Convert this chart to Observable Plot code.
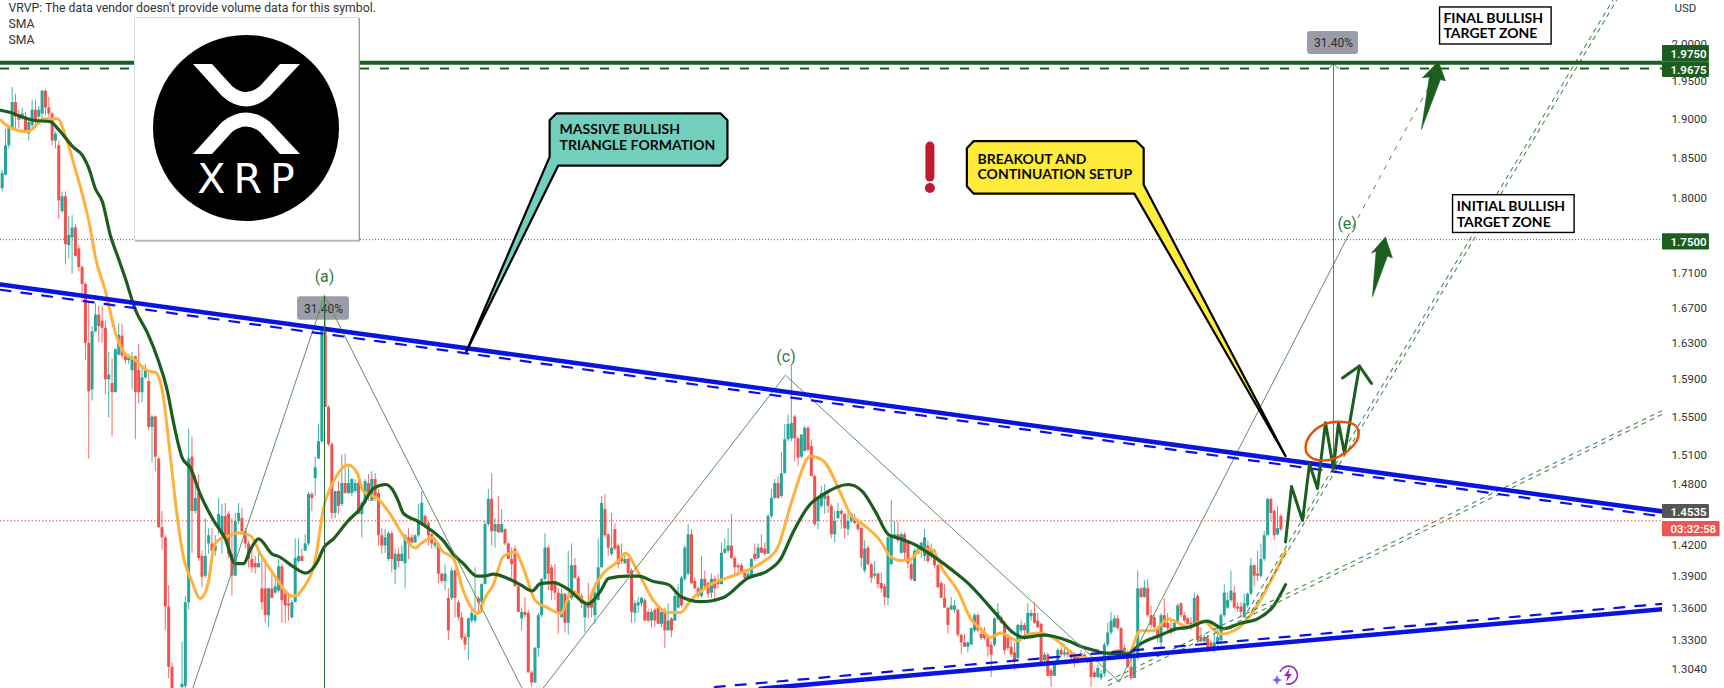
<!DOCTYPE html>
<html>
<head>
<meta charset="utf-8">
<script src="https://cdn.jsdelivr.net/npm/d3@7"></script>
<script src="https://cdn.jsdelivr.net/npm/@observablehq/plot@0.6"></script>
<style>
html,body{margin:0;padding:0;background:#fff;overflow:hidden}
svg{display:block}
</style>
</head>
<body>
<div id="chart"></div>
<script>
// ---- candles: [open, high, low, close], first bar number given with each run
const barsDecline = [
[1.812,1.835,1.808,1.831],[1.829,1.887,1.828,1.866],[1.866,1.892,1.862,1.888],[1.888,1.942,1.887,1.922],[1.922,1.933,1.887,1.903],
[1.904,1.912,1.888,1.899],[1.903,1.915,1.898,1.907],[1.903,1.909,1.884,1.885],[1.881,1.899,1.872,1.896],[1.892,1.925,1.888,1.912],
[1.912,1.925,1.892,1.899],[1.903,1.917,1.895,1.912],[1.907,1.938,1.895,1.937],[1.937,1.939,1.904,1.915],[1.915,1.929,1.903,1.907],
[1.907,1.909,1.866,1.872],[1.872,1.884,1.862,1.881],[1.866,1.872,1.774,1.797],[1.784,1.808,1.781,1.802],[1.802,1.808,1.72,1.744],
[1.743,1.778,1.727,1.755],[1.752,1.779,1.709,1.764],[1.764,1.768,1.729,1.73],[1.739,1.743,1.712,1.717],[1.717,1.719,1.676,1.697],
[1.697,1.699,1.611,1.63],[1.63,1.676,1.506,1.577],[1.579,1.649,1.567,1.643],[1.643,1.675,1.642,1.662],[1.662,1.672,1.631,1.649],
[1.655,1.672,1.63,1.647],[1.647,1.655,1.574,1.59],[1.59,1.62,1.549,1.595],[1.586,1.613,1.529,1.576],[1.576,1.624,1.576,1.623],
[1.617,1.652,1.616,1.639],[1.638,1.651,1.613,1.616],[1.616,1.618,1.607,1.611],[1.611,1.618,1.607,1.615],[1.6,1.62,1.579,1.615],
[1.615,1.616,1.526,1.576],[1.6,1.629,1.564,1.576],[1.576,1.604,1.565,1.592],[1.592,1.607,1.59,1.6],[1.588,1.598,1.536,1.539],
[1.539,1.552,1.502,1.55],[1.55,1.551,1.493,1.508],[1.506,1.508,1.436,1.437],[1.437,1.453,1.415,1.427],[1.427,1.429,1.339,1.361],
[1.361,1.381,1.296,1.306],[1.306,1.31,1.283,1.285]];
const barsFirstSwing = [
[1.288,1.329,1.286,1.291],[1.289,1.371,1.287,1.365],[1.365,1.537,1.358,1.506],[1.508,1.529,1.412,1.453],[1.453,1.488,1.45,1.466],
[1.471,1.49,1.404,1.407],[1.409,1.414,1.379,1.389],[1.39,1.446,1.388,1.409],[1.421,1.436,1.411,1.429],[1.421,1.436,1.412,1.414],
[1.414,1.429,1.409,1.419],[1.436,1.466,1.43,1.45],[1.43,1.46,1.411,1.448],[1.448,1.461,1.427,1.429],[1.45,1.453,1.407,1.411],
[1.411,1.446,1.371,1.39],[1.39,1.451,1.39,1.443],[1.443,1.461,1.44,1.451],[1.446,1.456,1.431,1.433],[1.433,1.436,1.416,1.421],
[1.421,1.424,1.398,1.406],[1.406,1.417,1.393,1.398],[1.402,1.409,1.392,1.398],[1.398,1.412,1.398,1.402],[1.378,1.407,1.358,1.365],
[1.378,1.406,1.346,1.353],[1.353,1.379,1.342,1.378],[1.378,1.395,1.369,1.369],[1.374,1.388,1.373,1.38],[1.376,1.406,1.374,1.399],
[1.399,1.401,1.346,1.367],[1.373,1.376,1.346,1.362],[1.364,1.371,1.348,1.362],[1.351,1.367,1.35,1.365],[1.365,1.426,1.365,1.407],
[1.404,1.426,1.402,1.409],[1.409,1.416,1.404,1.404],[1.414,1.43,1.414,1.421],[1.421,1.472,1.419,1.47],[1.47,1.472,1.453,1.466],
[1.486,1.508,1.468,1.497],[1.506,1.542,1.506,1.524],[1.524,1.649,1.522,1.647],[1.643,1.671,1.56,1.56],[1.56,1.562,1.519,1.521],
[1.521,1.523,1.445,1.451],[1.451,1.473,1.446,1.473],[1.473,1.483,1.45,1.458],[1.46,1.51,1.458,1.481],[1.481,1.511,1.47,1.471],
[1.471,1.498,1.47,1.481],[1.471,1.486,1.468,1.485],[1.473,1.485,1.471,1.481],[1.481,1.491,1.45,1.45],[1.45,1.463,1.427,1.461],
[1.461,1.485,1.46,1.483],[1.481,1.49,1.463,1.471],[1.463,1.493,1.463,1.485],[1.485,1.491,1.463,1.465],[1.471,1.475,1.419,1.429],
[1.429,1.436,1.411,1.419],[1.419,1.435,1.412,1.427],[1.406,1.433,1.404,1.431],[1.431,1.433,1.393,1.406],[1.396,1.416,1.382,1.411],
[1.411,1.417,1.398,1.404],[1.404,1.419,1.404,1.411],[1.402,1.43,1.378,1.429],[1.427,1.436,1.406,1.422],[1.427,1.43,1.421,1.422],
[1.422,1.43,1.422,1.429],[1.429,1.46,1.427,1.443]];
const barsMiddleRange = [
[1.44,1.473,1.438,1.461],[1.448,1.45,1.436,1.44],[1.441,1.443,1.419,1.429],[1.43,1.431,1.416,1.421],[1.419,1.426,1.416,1.422],
[1.421,1.422,1.383,1.392],[1.392,1.393,1.383,1.385],[1.385,1.401,1.376,1.392],[1.369,1.378,1.33,1.339],[1.369,1.398,1.367,1.395],
[1.395,1.397,1.351,1.369],[1.365,1.367,1.348,1.351],[1.351,1.356,1.33,1.332],[1.333,1.336,1.321,1.326],[1.333,1.351,1.312,1.35],
[1.348,1.362,1.346,1.355],[1.348,1.398,1.346,1.353],[1.369,1.371,1.355,1.365],[1.365,1.383,1.355,1.382],[1.382,1.443,1.382,1.44],
[1.44,1.475,1.438,1.465],[1.465,1.491,1.419,1.433],[1.433,1.446,1.417,1.44],[1.44,1.468,1.431,1.432],[1.432,1.455,1.431,1.44],
[1.435,1.436,1.419,1.421],[1.421,1.422,1.406,1.406],[1.406,1.417,1.388,1.401],[1.416,1.419,1.38,1.38],[1.38,1.382,1.356,1.356],
[1.35,1.36,1.339,1.356],[1.356,1.37,1.351,1.353],[1.355,1.358,1.301,1.301],[1.301,1.303,1.288,1.292],[1.292,1.324,1.292,1.323],
[1.323,1.355,1.315,1.353],[1.353,1.388,1.351,1.387],[1.387,1.431,1.385,1.417],[1.417,1.419,1.376,1.392],[1.398,1.401,1.367,1.376],
[1.385,1.401,1.367,1.374],[1.374,1.378,1.336,1.356],[1.351,1.378,1.351,1.373],[1.373,1.374,1.337,1.346],[1.346,1.414,1.335,1.367],
[1.369,1.421,1.367,1.4],[1.4,1.407,1.387,1.388],[1.388,1.39,1.369,1.371],[1.371,1.373,1.36,1.364],[1.351,1.365,1.337,1.364],
[1.365,1.383,1.35,1.36],[1.364,1.37,1.351,1.36],[1.353,1.383,1.345,1.374],[1.367,1.426,1.367,1.398],[1.398,1.468,1.398,1.461],
[1.455,1.47,1.427,1.429],[1.43,1.431,1.409,1.417],[1.411,1.451,1.409,1.417],[1.435,1.441,1.414,1.416],[1.419,1.421,1.397,1.401],
[1.409,1.421,1.401,1.404],[1.402,1.411,1.401,1.406],[1.406,1.407,1.392,1.392],[1.395,1.397,1.346,1.356],[1.355,1.367,1.346,1.364],
[1.362,1.37,1.355,1.365],[1.364,1.37,1.361,1.369],[1.367,1.369,1.348,1.348],[1.356,1.358,1.346,1.348],[1.348,1.359,1.342,1.356],
[1.358,1.36,1.342,1.348],[1.36,1.36,1.345,1.345],[1.345,1.359,1.342,1.356],[1.356,1.36,1.323,1.339],[1.339,1.364,1.339,1.348],
[1.35,1.351,1.333,1.339],[1.348,1.374,1.348,1.371],[1.36,1.382,1.36,1.371],[1.373,1.374,1.36,1.362]];
const barsSecondPeak = [
[1.373,1.39,1.367,1.388],[1.387,1.419,1.385,1.417],[1.392,1.44,1.39,1.43],[1.43,1.435,1.382,1.383],[1.385,1.388,1.378,1.378],
[1.378,1.38,1.369,1.371],[1.371,1.409,1.369,1.387],[1.387,1.395,1.378,1.38],[1.383,1.385,1.369,1.373],[1.374,1.392,1.369,1.387],
[1.387,1.39,1.365,1.378],[1.385,1.392,1.378,1.382],[1.382,1.422,1.382,1.412],[1.412,1.426,1.411,1.416],[1.414,1.436,1.412,1.419],
[1.419,1.45,1.406,1.407],[1.407,1.409,1.39,1.398],[1.4,1.402,1.39,1.398],[1.4,1.402,1.392,1.393],[1.393,1.395,1.387,1.388],
[1.388,1.395,1.387,1.392],[1.388,1.407,1.388,1.406],[1.411,1.421,1.404,1.406],[1.407,1.421,1.406,1.417],[1.417,1.43,1.412,1.412],
[1.416,1.422,1.409,1.411],[1.411,1.45,1.411,1.448],[1.448,1.475,1.446,1.466],[1.466,1.485,1.465,1.481],[1.481,1.488,1.465,1.466],
[1.468,1.513,1.466,1.491],[1.491,1.542,1.491,1.526],[1.526,1.552,1.524,1.542],[1.527,1.605,1.524,1.543],[1.55,1.552,1.503,1.527],
[1.527,1.529,1.498,1.507],[1.508,1.531,1.506,1.531],[1.514,1.54,1.513,1.538],[1.538,1.54,1.513,1.515],[1.519,1.526,1.488,1.488],
[1.488,1.49,1.438,1.44],[1.443,1.466,1.435,1.465],[1.458,1.478,1.456,1.471],[1.465,1.48,1.45,1.471],[1.468,1.471,1.451,1.458],
[1.458,1.46,1.426,1.43],[1.43,1.453,1.422,1.443],[1.446,1.461,1.445,1.453],[1.453,1.455,1.435,1.45],[1.45,1.451,1.426,1.436],
[1.435,1.451,1.429,1.443],[1.443,1.451,1.441,1.45],[1.446,1.45,1.44,1.441],[1.44,1.445,1.433,1.435],[1.436,1.438,1.398,1.407],
[1.395,1.424,1.393,1.416],[1.417,1.419,1.4,1.401],[1.401,1.402,1.383,1.388],[1.39,1.404,1.388,1.392],[1.392,1.393,1.378,1.382],
[1.383,1.393,1.374,1.378],[1.38,1.382,1.362,1.37],[1.369,1.433,1.362,1.427],[1.401,1.464,1.4,1.43],[1.427,1.443,1.427,1.43],
[1.43,1.443,1.422,1.424]];
const barsFallToBase = [
[1.412,1.432,1.411,1.43],[1.43,1.432,1.406,1.412],[1.422,1.424,1.397,1.402],[1.401,1.403,1.385,1.387],[1.385,1.416,1.385,1.414],
[1.411,1.421,1.411,1.416],[1.416,1.422,1.407,1.422],[1.409,1.435,1.404,1.427],[1.419,1.424,1.402,1.404],[1.409,1.421,1.406,1.414],
[1.414,1.416,1.397,1.4],[1.4,1.401,1.379,1.379],[1.383,1.385,1.369,1.369],[1.369,1.382,1.36,1.36],[1.36,1.36,1.336,1.344],
[1.358,1.37,1.358,1.362],[1.358,1.367,1.355,1.362],[1.358,1.359,1.333,1.335],[1.335,1.336,1.318,1.328],[1.328,1.336,1.324,1.324],
[1.324,1.329,1.319,1.328],[1.326,1.342,1.326,1.341],[1.339,1.355,1.337,1.353],[1.353,1.355,1.337,1.339],[1.336,1.342,1.33,1.332],
[1.336,1.342,1.33,1.332],[1.332,1.335,1.315,1.324],[1.326,1.329,1.297,1.317],[1.326,1.351,1.324,1.35],[1.35,1.364,1.348,1.356],
[1.351,1.353,1.345,1.346],[1.346,1.348,1.317,1.321],[1.332,1.336,1.321,1.323],[1.324,1.33,1.315,1.317],[1.319,1.328,1.303,1.312],
[1.314,1.345,1.312,1.344],[1.339,1.348,1.336,1.344],[1.344,1.346,1.33,1.339],[1.336,1.364,1.333,1.355],[1.352,1.358,1.348,1.355],
[1.355,1.365,1.345,1.346],[1.348,1.355,1.341,1.342],[1.345,1.346,1.308,1.309],[1.312,1.319,1.306,1.317],[1.317,1.319,1.298,1.298],
[1.303,1.305,1.288,1.298],[1.298,1.31,1.298,1.309],[1.309,1.323,1.308,1.321],[1.321,1.324,1.315,1.317],[1.317,1.326,1.315,1.319],
[1.319,1.323,1.314,1.317],[1.317,1.321,1.31,1.314],[1.315,1.319,1.306,1.31],[1.315,1.317,1.309,1.311],[1.312,1.321,1.31,1.318],
[1.317,1.319,1.31,1.312],[1.314,1.315,1.309,1.31],[1.312,1.314,1.288,1.297],[1.301,1.303,1.296,1.297],[1.297,1.308,1.296,1.305]];
const barsRecovery = [
[1.296,1.303,1.294,1.3],[1.3,1.328,1.297,1.326],[1.326,1.346,1.324,1.337],[1.337,1.356,1.335,1.348],[1.342,1.353,1.341,1.35],
[1.35,1.353,1.339,1.341],[1.341,1.342,1.319,1.321],[1.323,1.326,1.314,1.315],[1.315,1.321,1.305,1.306],[1.306,1.314,1.294,1.296],
[1.296,1.315,1.296,1.314],[1.314,1.395,1.312,1.378],[1.378,1.379,1.369,1.37],[1.37,1.386,1.369,1.379],[1.378,1.387,1.351,1.353],
[1.353,1.362,1.341,1.344],[1.351,1.353,1.339,1.342],[1.341,1.342,1.328,1.332],[1.328,1.355,1.324,1.353],[1.353,1.369,1.341,1.342],
[1.346,1.355,1.339,1.341],[1.341,1.348,1.335,1.337],[1.339,1.348,1.337,1.346],[1.346,1.364,1.345,1.362],[1.364,1.365,1.351,1.353],
[1.353,1.356,1.346,1.348],[1.35,1.351,1.344,1.345],[1.346,1.351,1.339,1.344],[1.345,1.374,1.344,1.369],[1.371,1.373,1.329,1.33],
[1.333,1.342,1.328,1.329],[1.329,1.335,1.326,1.333],[1.332,1.335,1.319,1.324],[1.328,1.33,1.323,1.324],[1.324,1.336,1.319,1.328],
[1.328,1.342,1.324,1.333],[1.33,1.355,1.326,1.353],[1.353,1.382,1.351,1.374],[1.36,1.374,1.359,1.367],[1.367,1.395,1.365,1.376],
[1.374,1.38,1.359,1.36],[1.361,1.365,1.356,1.359],[1.361,1.365,1.351,1.356],[1.351,1.373,1.351,1.364],[1.362,1.374,1.36,1.373],
[1.373,1.407,1.371,1.4],[1.4,1.401,1.38,1.39],[1.392,1.414,1.385,1.39],[1.39,1.421,1.388,1.406],[1.406,1.433,1.404,1.429],
[1.429,1.466,1.429,1.465],[1.465,1.466,1.443,1.451],[1.453,1.455,1.424,1.429],[1.43,1.458,1.429,1.436],[1.448,1.45,1.433,1.435]];
const barRuns = [[0,barsDecline],[54,barsFirstSwing],[126,barsMiddleRange],[204,barsSecondPeak],[270,barsFallToBase],[330,barsRecovery]];

// ---- moving averages
const greenSmaBars = [-0.5,2.5,5.5,9.4,14.5,16.9,21.4,24.1,25.9,28,30.1,32.5,34.6,37,40,43.6,46.9,49.6,51.4,54.1,56.5,59.5,63.5,67,70,72.5,74.6,77,81.2,83,87.5,91.1,94.7,96.5,99.5,103.7,107.6,111.5,115.1,117.2,119,120.5,125,128.6,132.5,135.5,138.5,142.7,144.5,147.5,151.7,155.6,159.2,161.6,165.6,169.8,175.8,179.7,182.1,187.8,191.1,195.6,200.1,203.7,209.7,216.6,223.8,229.8,233.7,237.6,242.1,246.6,254.1,258.3,262.2,266.2,269.8,273.7,279.7,284.8,290.2,294.4,298.9,303.7,306.7,312.7,320,323.8,328.3,330.7,337.9,341.8,347.8,352.9,355.9,361.9,366.8,371.9,377,381.8,385.4];
const greenSmaPrices = [1.912,1.909,1.904,1.899,1.897,1.887,1.864,1.854,1.839,1.812,1.796,1.755,1.731,1.704,1.668,1.642,1.611,1.578,1.545,1.507,1.497,1.47,1.444,1.426,1.402,1.402,1.416,1.426,1.411,1.409,1.399,1.393,1.404,1.417,1.426,1.443,1.456,1.476,1.48,1.475,1.463,1.451,1.443,1.435,1.424,1.411,1.402,1.39,1.39,1.392,1.388,1.382,1.376,1.383,1.384,1.378,1.364,1.376,1.388,1.39,1.39,1.385,1.382,1.371,1.366,1.37,1.388,1.395,1.406,1.433,1.458,1.47,1.48,1.473,1.453,1.43,1.426,1.421,1.409,1.397,1.383,1.369,1.353,1.337,1.333,1.335,1.33,1.325,1.321,1.319,1.318,1.327,1.335,1.341,1.342,1.348,1.341,1.346,1.35,1.362,1.382];
const orangeSmaBars = [-0.5,2.5,7.6,10.6,12.4,16.6,19,22,24.4,26.5,28,31,34,37,39.4,43.6,46,48.1,50.5,52.6,54.1,57.1,59.5,61.9,63.5,64.6,68,71,74.6,77.6,81.5,87.2,90.5,94.1,96.5,99.5,104,106.7,108.5,112.7,116.6,120.5,124.1,125.6,129.2,132.2,135.5,138.5,143,145.1,147.5,150.5,154.1,156.5,160.1,164,167.6,171.3,175.8,177.6,180.3,184.8,187.2,190.8,195.6,199.8,203.7,206.7,212.7,220.8,228.6,232.8,237.3,242.7,246.3,252.6,254.7,258.6,263.7,266.7,269.8,272.8,275.8,278.8,282.7,287,290.9,293.8,296.8,299.8,304.9,308.2,311.8,316.9,321.7,325.9,329.8,335,338,341.8,345.7,350.2,355.9,360.7,365.8,370.9,374.8,379.9,385.4];
const orangeSmaPrices = [1.899,1.889,1.884,1.894,1.901,1.901,1.879,1.836,1.8,1.763,1.729,1.69,1.642,1.618,1.613,1.6,1.598,1.578,1.509,1.447,1.414,1.384,1.369,1.384,1.417,1.424,1.429,1.432,1.429,1.411,1.392,1.371,1.379,1.407,1.456,1.483,1.5,1.491,1.473,1.466,1.45,1.429,1.417,1.421,1.427,1.414,1.407,1.376,1.355,1.37,1.382,1.409,1.413,1.398,1.367,1.36,1.355,1.376,1.364,1.378,1.392,1.404,1.412,1.395,1.367,1.356,1.356,1.367,1.382,1.392,1.404,1.417,1.465,1.509,1.505,1.465,1.45,1.44,1.424,1.409,1.405,1.406,1.416,1.416,1.395,1.376,1.35,1.341,1.333,1.337,1.33,1.336,1.337,1.33,1.318,1.314,1.312,1.321,1.317,1.339,1.339,1.35,1.343,1.348,1.336,1.341,1.353,1.379,1.414];

// ---- price axis
const axisPrices = [2,1.95,1.9,1.85,1.8,1.71,1.67,1.63,1.59,1.55,1.51,1.48,1.42,1.39,1.36,1.33,1.304];
const barRange = [-0.5,498.6];
const priceRange = [1.2872,2.0611];

// ---- levels
const targetFinal = 1.975, targetFinalLow = 1.9675, targetInitial = 1.75, livePrice = 1.4437;

// ---- drawn trend lines [bar, price]
const triangleTop = [[-0.5,1.697],[498.6,1.453]];
const triangleTopDash = [[-0.5,1.691],[498.6,1.448]];
const triangleBase = [[227.7,1.287],[498.6,1.359]];
const triangleBaseDash = [[214,1.2885],[498.6,1.364]];
const wave = [[56,1.2766],[96.8,1.684],[158.6,1.273],[235.2,1.595],[335.5,1.293],[404,1.753]];
const waveExtension = [[404,1.753],[432.2,1.974]];
const channelShallowA = [[332.2,1.29],[498.6,1.553]];
const channelShallowB = [[332.2,1.294],[498.6,1.557]];
const channelSteepA = [[374,1.357],[483.6,2.0611]];
const channelSteepB = [[375.2,1.357],[484.8,2.0611]];
const projection = [[385.4,1.423],[387.2,1.478],[390.5,1.444],[392.6,1.501],[395,1.476],[397.4,1.544],[399.8,1.496],[401.3,1.544],[403.1,1.512],[407.6,1.605]];
const projectionHead = [[402.5,1.592],[407.6,1.605],[411.2,1.586]];
const breakoutRing = [[391.4,1.518],[392.6,1.53],[396.8,1.542],[401.6,1.545],[406.4,1.541],[407.3,1.53],[405.2,1.518],[400.4,1.507],[395,1.505],[392,1.511]];
const arrowFinal = [[431.3,1.977],[433.4,1.951],[431.9,1.9525],[426.2,1.887],[428.6,1.956],[426.5,1.955],[431.3,1.977]];
const arrowInitial = [[415.4,1.753],[417.5,1.728],[416,1.7305],[411.5,1.683],[412.6,1.736],[411.2,1.734],[415.4,1.753]];
const chevron = [[398.3,1.967],[399.8,1.974],[401.3,1.967]];
const calloutTriangle = [[166.5,1.908],[215.7,1.908],[217.8,1.899],[217.8,1.85],[215.7,1.841],[167,1.841],[139.4,1.621],[164.4,1.852],[164.4,1.899],[166.5,1.908]];
const calloutBreakout = [[291.7,1.872],[340.6,1.872],[342.8,1.863],[342.8,1.817],[385.4,1.509],[340,1.806],[291.7,1.806],[289.7,1.815],[289.7,1.863],[291.7,1.872]];

// ---- text
const headerLines = [["VRVP: The data vendor doesn't provide volume data for this symbol.",2.0506],["SMA",2.0276],["SMA",2.0055]];
const calloutText = [
 ["MASSIVE BULLISH",167.4,1.887],["TRIANGLE FORMATION",167.4,1.867],
 ["BREAKOUT AND",292.9,1.849],["CONTINUATION SETUP",292.9,1.83]];
const targetText = [
 ["FINAL BULLISH",432.8,2.0359],["TARGET ZONE",432.8,2.0152],
 ["INITIAL BULLISH",436.8,1.79],["TARGET ZONE",436.8,1.771]];
const waveLabels = [["(a)",96.8,1.706],["(c)",235.4,1.615],["(e)",403.9,1.769]];
const percentBoxes = [[88.7,104.3,1.656,1.683,96.5,1.669],[392,407.3,1.9865,2.0179,399.8,2.002]];
const priceTags = [
 ["1.9750",1.9986,1.9757,1.987,"#1b5e20",512.7],
 ["1.9675",1.9757,1.9553,1.9656,"#1b5e20",512.7],
 ["1.7500",1.757,1.7377,1.747,"#1b5e20",512.7],
 ["1.4535",1.46,1.446,1.4525,"#555555",512.7],
 ["03:32:58",1.443,1.428,1.4355,"#f05350",515.9]];

const pt = {x:d=>d[0], y:d=>d[1]};
const candles = barRuns.flatMap(([start,rows]) => rows.map((r,i)=>({bar:start+i,o:r[0],h:r[1],l:r[2],c:r[3]})));
const up = candles.filter(d=>d.c>=d.o), down = candles.filter(d=>d.c<d.o);
const TEAL="#26a69a", RED="#ef5350", DARK="#1b5e20", BLUE="#0a14e0", THIN="#5f8f63";
const F="Lato, 'Open Sans', sans-serif", UI="Roboto, 'Open Sans', sans-serif";

function candleMarks(rows,color){
  return [
    Plot.ruleX(rows,{x:"bar",y1:"l",y2:"h",stroke:color,strokeWidth:1,strokeOpacity:.85,clip:true}),
    Plot.ruleX(rows,{x:"bar",y1:"o",y2:"c",stroke:color,strokeWidth:3,clip:true})
  ];
}
const line = (d,o) => Plot.line(d,{...pt,clip:true,...o});

function logo(){
  const g = d3.create("svg:g");
  g.append("rect").attr("x",134.5).attr("y",17.5).attr("width",224).attr("height",222.5)
    .attr("fill","#fff").attr("stroke","#d8d8d8").style("filter","drop-shadow(1px 1px 0.6px #999)");
  g.append("circle").attr("cx",246).attr("cy",128).attr("r",93).attr("fill","#000");
  g.append("path").attr("fill","#fff").attr("d","M193,64L212,64L232,86Q246,98 260,86L280,64L300,64L270,96Q246,117 222,96Z");
  g.append("path").attr("fill","#fff").attr("d","M193,154L222,122Q246,103 270,122L300,154L280,154L260,132Q246,121 232,132L212,154Z");
  g.append("text").attr("x",250).attr("y",193).attr("text-anchor","middle")
    .attr("font-family","'DejaVu Sans', sans-serif").attr("font-weight",400).attr("font-size",41).attr("letter-spacing",8)
    .attr("fill","#fff").text("XRP");
  return g.node();
}
function boltIcon(){
  const g = d3.create("svg:g").attr("transform","translate(1288,675)");
  g.append("path").attr("fill","none").attr("stroke","#9c27b0").attr("stroke-width",1.6).attr("d","M-8,-3A9,9 0 1 1 -2,8.8");
  g.append("path").attr("fill","#9c27b0").attr("d","M2,-7L-4,1L-0.5,1L-2,7L4,-1L0.5,-1Z");
  g.append("path").attr("fill","#8a5cf0").attr("d","M-11,0L-9.5,3.5L-6,5L-9.5,6.5L-11,10L-12.5,6.5L-16,5L-12.5,3.5Z");
  return g.node();
}

const chart = Plot.plot({
  width:1724, height:688,
  marginLeft:0, marginRight:62, marginTop:0, marginBottom:0,
  style:{background:"#fff",overflow:"visible"},
  x:{type:"linear",domain:barRange,axis:null},
  y:{type:"log",domain:priceRange,axis:null},
  marks:[
    Plot.rect(percentBoxes,{x1:d=>d[0],x2:d=>d[1],y1:d=>d[2],y2:d=>d[3],fill:"#9a9ca8",rx:3}),
    Plot.text(percentBoxes,{x:d=>d[4],y:d=>d[5],text:()=>"31.40%",fontFamily:UI,fontSize:12,fill:"#2b2b33"}),
    Plot.ruleY([livePrice],{stroke:"#f0524f",strokeDasharray:"1.5 2",strokeWidth:1}),
    Plot.ruleY([targetInitial],{stroke:"#2e7d32",strokeDasharray:"1 2",strokeWidth:1}),
    ...candleMarks(up,TEAL),
    ...candleMarks(down,RED),
    line(orangeSmaBars.map((b,i)=>[b,orangeSmaPrices[i]]),{stroke:"#ffb13d",strokeWidth:3,curve:"monotone-x"}),
    line(greenSmaBars.map((b,i)=>[b,greenSmaPrices[i]]),{stroke:"#1b5e20",strokeWidth:3.2,curve:"monotone-x"}),
    line(wave,{stroke:THIN,strokeWidth:1}),
    line(waveExtension,{stroke:"#4e8a55",strokeWidth:1,strokeDasharray:"4 7"}),
    line(channelShallowA,{stroke:"#4e8a55",strokeWidth:1.1,strokeDasharray:"4 5"}),
    line(channelShallowB,{stroke:"#4e8a55",strokeWidth:1.1,strokeDasharray:"4 5"}),
    line(channelSteepA,{stroke:"#4e8a55",strokeWidth:1.1,strokeDasharray:"4 5"}),
    line(channelSteepB,{stroke:"#4e8a55",strokeWidth:1.1,strokeDasharray:"4 5"}),
    line(triangleTop,{stroke:BLUE,strokeWidth:4.5}),
    line(triangleTopDash,{stroke:BLUE,strokeWidth:2.2,strokeDasharray:"10 11"}),
    line(triangleBase,{stroke:BLUE,strokeWidth:4.5}),
    line(triangleBaseDash,{stroke:BLUE,strokeWidth:2.2,strokeDasharray:"10 11"}),
    Plot.ruleX([96.8],{y1:1.684,y2:priceRange[0],stroke:"#2e6b34",strokeWidth:1}),
    Plot.ruleX([399.8],{y1:1.974,y2:1.502,stroke:"#4a8c4f",strokeWidth:1}),
    line(chevron,{stroke:"#4a8c4f",strokeWidth:1}),
    Plot.ruleY([targetFinal],{stroke:DARK,strokeWidth:4}),
    Plot.ruleY([targetFinalLow],{stroke:DARK,strokeWidth:2,strokeDasharray:"9 11"}),
    line(projection,{stroke:DARK,strokeWidth:3}),
    line(projectionHead,{stroke:DARK,strokeWidth:3}),
    line(breakoutRing,{stroke:"#e65100",strokeWidth:2.4,curve:"catmull-rom-closed"}),
    line(arrowFinal,{fill:DARK,stroke:DARK,strokeWidth:.6}),
    line(arrowInitial,{fill:DARK,stroke:DARK,strokeWidth:.6}),
    line(calloutTriangle,{fill:"#72cfbd",stroke:"#000",strokeWidth:2.2,strokeLinejoin:"round"}),
    line(calloutBreakout,{fill:"#ffeb3b",stroke:"#000",strokeWidth:2.2,strokeLinejoin:"round"}),
    Plot.text(calloutText,{x:d=>d[1],y:d=>d[2],text:d=>d[0],textAnchor:"start",fontFamily:F,fontWeight:700,fontSize:14,fill:"#0a0a0a"}),
    Plot.ruleX([278.6],{y1:1.826,y2:1.865,stroke:"#c2192f",strokeWidth:9,strokeLinecap:"round"}),
    Plot.dot([[278.6,1.813]],{...pt,r:5,fill:"#c2192f"}),
    Plot.text(waveLabels,{x:d=>d[1],y:d=>d[2],text:d=>d[0],fontFamily:UI,fontSize:16,fill:"#35793c"}),
    Plot.rect(targetText.slice(0,1),{x1:431.8,x2:465.3,y1:2,y2:2.0513,fill:"#fff",stroke:"#000",strokeWidth:1.4}),
    Plot.rect(targetText.slice(0,1),{x1:435.7,x2:472.2,y1:1.758,y2:1.804,fill:"#fff",stroke:"#000",strokeWidth:1.4}),
    Plot.text(targetText,{x:d=>d[1],y:d=>d[2],text:d=>d[0],textAnchor:"start",fontFamily:F,fontWeight:700,fontSize:14,fill:"#000"}),
    Plot.axisY(axisPrices,{anchor:"right",tickSize:0,tickPadding:9,tickFormat:d=>d.toFixed(4),fontFamily:UI,fontSize:11.5,fill:"#333",label:null}),
    Plot.rect(priceTags,{x1:498.6,x2:d=>d[5],y1:d=>d[2],y2:d=>d[1],fill:d=>d[4],rx:1}),
    Plot.text(priceTags,{x:501,y:d=>d[3],text:d=>d[0],textAnchor:"start",fontFamily:UI,fontWeight:600,fontSize:11.5,fill:"#fff"}),
    Plot.text(headerLines,{x:1.9,y:d=>d[1],text:d=>d[0],textAnchor:"start",fontFamily:UI,fontSize:12.25,fill:"#333"}),
    Plot.text(["USD"],{x:502.2,y:2.0497,textAnchor:"start",fontFamily:UI,fontSize:11.5,fill:"#333"}),
    logo,
    boltIcon
  ]
});
document.getElementById("chart").append(chart);
</script>
</body>
</html>
